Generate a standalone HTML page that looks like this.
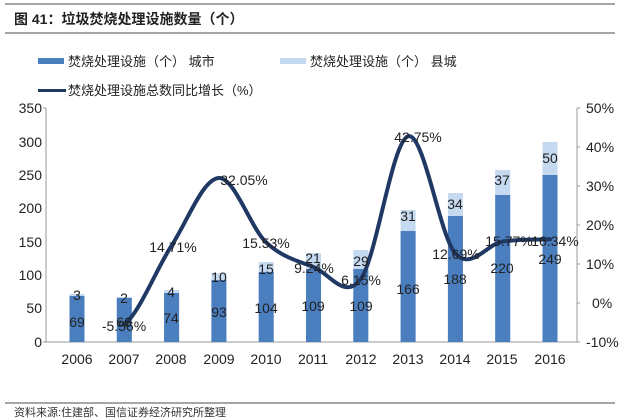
<!DOCTYPE html>
<html><head><meta charset="utf-8"><style>
body{margin:0;background:#fff;}
svg{display:block;font-family:"Liberation Sans","Noto Sans CJK SC",sans-serif;}
</style></head><body>
<svg width="620" height="419" viewBox="0 0 620 419" xmlns="http://www.w3.org/2000/svg">
<line x1="5" y1="4" x2="615" y2="4" stroke="#888" stroke-width="1.5"/>
<text x="14" y="24" font-size="14" font-weight="bold" fill="#222">图 41：垃圾焚烧处理设施数量（个）</text>
<line x1="5" y1="33" x2="615" y2="33" stroke="#888" stroke-width="1.5"/>
<rect x="38" y="58" width="26" height="6" fill="#4a7ebf"/>
<text x="68" y="66" font-size="13" fill="#222">焚烧处理设施（个） 城市</text>
<rect x="280" y="58" width="26" height="6" fill="#c5d9f1"/>
<text x="310" y="66" font-size="13" fill="#222">焚烧处理设施（个） 县城</text>
<rect x="38" y="89" width="28" height="3" fill="#1f3864"/>
<text x="68" y="95" font-size="13" fill="#222">焚烧处理设施总数同比增长（%）</text>
<g font-size="14" fill="#222" text-anchor="end">
<text x="42" y="113">350</text><text x="42" y="147">300</text><text x="42" y="180">250</text><text x="42" y="213">200</text><text x="42" y="247">150</text><text x="42" y="280">100</text><text x="42" y="313">50</text><text x="42" y="347">0</text>
</g>
<g stroke="#999" stroke-width="1">
<line x1="46" y1="108" x2="46" y2="342"/><line x1="46" y1="342" x2="577" y2="342"/>
<line x1="577" y1="108" x2="577" y2="342"/>
<line x1="43" y1="108" x2="46" y2="108"/><line x1="43" y1="342" x2="46" y2="342"/>
<line x1="577" y1="108" x2="580" y2="108"/><line x1="577" y1="147" x2="580" y2="147"/><line x1="577" y1="186" x2="580" y2="186"/><line x1="577" y1="225" x2="580" y2="225"/><line x1="577" y1="264" x2="580" y2="264"/><line x1="577" y1="303" x2="580" y2="303"/><line x1="577" y1="342" x2="580" y2="342"/>
</g>
<g font-size="14" fill="#222">
<text x="586" y="113">50%</text><text x="586" y="152">40%</text><text x="586" y="191">30%</text><text x="586" y="230">20%</text><text x="586" y="269">10%</text><text x="592" y="308">0%</text><text x="586" y="347">-10%</text>
</g>
<g id="bars">
<rect x="69.5" y="294" width="15" height="48" fill="#c5d9f1"/><rect x="69.5" y="296" width="15" height="46" fill="#4a7ebf"/>
<rect x="116.8" y="297" width="15" height="45" fill="#c5d9f1"/><rect x="116.8" y="298" width="15" height="44" fill="#4a7ebf"/>
<rect x="164.1" y="290" width="15" height="52" fill="#c5d9f1"/><rect x="164.1" y="293" width="15" height="49" fill="#4a7ebf"/>
<rect x="211.4" y="273" width="15" height="69" fill="#c5d9f1"/><rect x="211.4" y="280" width="15" height="62" fill="#4a7ebf"/>
<rect x="258.7" y="262" width="15" height="80" fill="#c5d9f1"/><rect x="258.7" y="272" width="15" height="70" fill="#4a7ebf"/>
<rect x="306" y="253" width="15" height="89" fill="#c5d9f1"/><rect x="306" y="269" width="15" height="73" fill="#4a7ebf"/>
<rect x="353.3" y="250" width="15" height="92" fill="#c5d9f1"/><rect x="353.3" y="269" width="15" height="73" fill="#4a7ebf"/>
<rect x="400.6" y="210" width="15" height="132" fill="#c5d9f1"/><rect x="400.6" y="231" width="15" height="111" fill="#4a7ebf"/>
<rect x="447.9" y="193" width="15" height="149" fill="#c5d9f1"/><rect x="447.9" y="216" width="15" height="126" fill="#4a7ebf"/>
<rect x="495.2" y="170" width="15" height="172" fill="#c5d9f1"/><rect x="495.2" y="195" width="15" height="147" fill="#4a7ebf"/>
<rect x="542.5" y="142" width="15" height="200" fill="#c5d9f1"/><rect x="542.5" y="175" width="15" height="167" fill="#4a7ebf"/>
</g>
<path d="M124.3,324.7 C140.1,311.5 155.8,270.1 171.6,245.6 C187.4,221.2 203.1,178.5 218.9,178 C234.7,177.5 250.4,227.6 266.2,242.4 C282,257.2 297.7,260.9 313.5,267 C329.3,273.1 345,300.8 360.8,279 C376.6,257.2 392.3,140.6 408.1,136.3 C423.9,132 439.6,236 455.4,253.5 C471.2,271 486.9,243.9 502.7,241.5 C518.5,239.1 534.2,239.7 550,239.3" fill="none" stroke="#1f3864" stroke-width="4" stroke-linecap="round"/>
<g font-size="14" fill="#222" text-anchor="middle">
<text x="77" y="300">3</text><text x="77" y="327">69</text>
<text x="124" y="303">2</text><text x="124" y="327">66</text>
<text x="171" y="297">4</text><text x="171" y="323">74</text>
<text x="219" y="282">10</text><text x="219" y="317">93</text>
<text x="266" y="274">15</text><text x="266" y="313">104</text>
<text x="313" y="263">21</text><text x="313" y="311">109</text>
<text x="361" y="266">29</text><text x="361" y="311">109</text>
<text x="408" y="221">31</text><text x="408" y="294">166</text>
<text x="455" y="209">34</text><text x="455" y="284">188</text>
<text x="502" y="185">37</text><text x="502" y="273">220</text>
<text x="550" y="163">50</text><text x="550" y="264">249</text>
<text x="124" y="331">-5.56%</text>
<text x="173" y="252">14.71%</text>
<text x="244" y="185">32.05%</text>
<text x="266" y="248">15.53%</text>
<text x="314" y="273">9.24%</text>
<text x="361" y="285">6.15%</text>
<text x="418" y="142">42.75%</text>
<text x="456" y="259">12.69%</text>
<text x="509" y="246">15.77%</text>
<text x="555" y="246">16.34%</text>
</g>
<g font-size="14" fill="#222" text-anchor="middle">
<text x="77" y="364">2006</text><text x="124" y="364">2007</text><text x="171" y="364">2008</text><text x="219" y="364">2009</text><text x="266" y="364">2010</text><text x="313" y="364">2011</text><text x="361" y="364">2012</text><text x="408" y="364">2013</text><text x="455" y="364">2014</text><text x="502" y="364">2015</text><text x="550" y="364">2016</text>
</g>
<line x1="5" y1="403" x2="615" y2="403" stroke="#888" stroke-width="1.5"/>
<text x="14" y="416" font-size="11" fill="#333">资料来源:住建部、国信证券经济研究所整理</text>
</svg>
</body></html>
